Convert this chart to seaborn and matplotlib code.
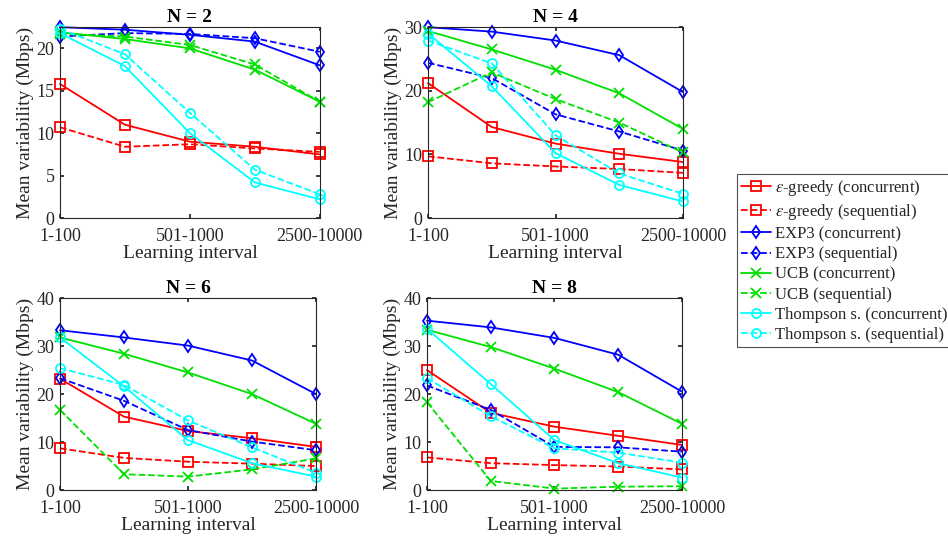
import matplotlib
matplotlib.use("Agg")
import matplotlib.pyplot as plt
import pandas as pd
import seaborn as sns

# x positions of the five learning intervals; only three are labelled
x_pos = [1, 2, 3, 4, 5]
tick_pos = [1, 3, 5]
tick_labels = ["1-100", "501-1000", "2500-10000"]

panels = ["N = 2", "N = 4", "N = 6", "N = 8"]

# values, per panel (Mbps)
eps_conc = {
    "N = 2": [15.8, 11.0, 9.0, 8.4, 7.5],
    "N = 4": [21.2, 14.3, 11.7, 10.1, 8.8],
    "N = 6": [23.2, 15.3, 12.3, 10.8, 9.0],
    "N = 8": [25.0, 16.1, 13.2, 11.3, 9.4],
}
eps_seq = {
    "N = 2": [10.7, 8.4, 8.7, 8.2, 7.8],
    "N = 4": [9.7, 8.6, 8.1, 7.7, 7.1],
    "N = 6": [8.7, 6.7, 5.9, 5.5, 5.0],
    "N = 8": [6.8, 5.6, 5.2, 4.9, 4.3],
}
exp3_conc = {
    "N = 2": [22.5, 22.2, 21.6, 20.8, 18.0],
    "N = 4": [30.0, 29.3, 27.9, 25.6, 19.8],
    "N = 6": [33.3, 31.8, 30.1, 27.0, 20.0],
    "N = 8": [35.3, 33.9, 31.7, 28.2, 20.5],
}
exp3_seq = {
    "N = 2": [21.4, 21.8, 21.7, 21.2, 19.6],
    "N = 4": [24.4, 22.0, 16.3, 13.6, 10.6],
    "N = 6": [23.3, 18.6, 12.5, 10.1, 8.3],
    "N = 8": [21.8, 16.7, 9.0, 8.9, 8.0],
}
ucb_conc = {
    "N = 2": [21.9, 21.1, 20.0, 17.5, 13.7],
    "N = 4": [29.4, 26.5, 23.3, 19.6, 14.0],
    "N = 6": [31.8, 28.4, 24.5, 20.0, 13.8],
    "N = 8": [33.4, 29.8, 25.3, 20.4, 13.8],
}
ucb_seq = {
    "N = 2": [21.7, 21.4, 20.4, 18.1, 13.7],
    "N = 4": [18.2, 22.9, 18.7, 15.0, 10.3],
    "N = 6": [16.7, 3.3, 2.8, 4.3, 6.6],
    "N = 8": [18.3, 1.9, 0.3, 0.7, 0.8],
}
ts_conc = {
    "N = 2": [21.8, 17.9, 10.0, 4.2, 2.2],
    "N = 4": [29.0, 20.7, 10.2, 5.2, 2.6],
    "N = 6": [31.8, 21.6, 10.4, 5.6, 2.8],
    "N = 8": [33.6, 22.1, 10.4, 5.6, 2.6],
}
ts_seq = {
    "N = 2": [22.3, 19.3, 12.4, 5.7, 2.8],
    "N = 4": [27.9, 24.3, 13.0, 7.0, 3.8],
    "N = 6": [25.4, 21.9, 14.5, 8.9, 3.6],
    "N = 8": [23.3, 15.4, 8.7, 7.8, 5.7],
}

ylims = {"N = 2": 22.5, "N = 4": 30, "N = 6": 40, "N = 8": 40}
yticks = {
    "N = 2": [0, 5, 10, 15, 20],
    "N = 4": [0, 10, 20, 30],
    "N = 6": [0, 10, 20, 30, 40],
    "N = 8": [0, 10, 20, 30, 40],
}

series = [
    ("$\\epsilon$-greedy (concurrent)", eps_conc, "#ff0000", "s", "-"),
    ("$\\epsilon$-greedy (sequential)", eps_seq, "#ff0000", "s", "--"),
    ("EXP3 (concurrent)", exp3_conc, "#0000ff", "d", "-"),
    ("EXP3 (sequential)", exp3_seq, "#0000ff", "d", "--"),
    ("UCB (concurrent)", ucb_conc, "#00e000", "x", "-"),
    ("UCB (sequential)", ucb_seq, "#00e000", "x", "--"),
    ("Thompson s. (concurrent)", ts_conc, "#00ffff", "o", "-"),
    ("Thompson s. (sequential)", ts_seq, "#00ffff", "o", "--"),
]

sns.set_theme(style="ticks")
plt.rcParams["font.family"] = ["Liberation Serif", "DejaVu Serif"]
plt.rcParams["mathtext.fontset"] = "stix"
text_col = "#262626"

fig = plt.figure(figsize=(9.48, 5.5), dpi=100)
boxes = {
    "N = 2": [0.0633, 0.6036, 0.274, 0.347],
    "N = 4": [0.4515, 0.6036, 0.269, 0.347],
    "N = 6": [0.0633, 0.109, 0.270, 0.349],
    "N = 8": [0.4504, 0.109, 0.269, 0.349],
}

handles = []
for panel in panels:
    ax = fig.add_axes(boxes[panel])
    for label, vals, col, mk, ls in series:
        df = pd.DataFrame({"x": x_pos, "y": vals[panel]})
        sns.lineplot(
            data=df, x="x", y="y", ax=ax, color=col, marker=mk,
            linestyle=ls, linewidth=1.3, markersize=6.5,
            markerfacecolor="none", markeredgecolor=col,
            markeredgewidth=1.3, label=label, legend=False, clip_on=False,
        )
    ax.set_xlim(1, 5)
    ax.set_ylim(0, ylims[panel])
    ax.set_xticks(tick_pos)
    ax.set_xticklabels(tick_labels)
    ax.set_yticks(yticks[panel])
    ax.tick_params(direction="in", top=True, right=True, length=3,
                   labelsize=13, colors=text_col, pad=4)
    ax.tick_params(axis="x", pad=7)
    for s in ax.spines.values():
        s.set_visible(True)
        s.set_color(text_col)
        s.set_linewidth(0.8)
    ax.set_xlabel("Learning interval", fontsize=14, color=text_col, labelpad=0)
    ax.set_ylabel("Mean variability (Mbps)", fontsize=14, color=text_col,
                  labelpad=2)
    ax.set_title(panel, fontsize=14, fontweight="bold", color="black", pad=4)
    if not handles:
        handles = ax.get_lines()

leg = fig.legend(
    handles=handles, labels=[s[0] for s in series],
    loc="upper left", bbox_to_anchor=(0.777, 0.684),
    fontsize=12, frameon=True, fancybox=False, handlelength=1.8,
    handletextpad=0.25, labelspacing=0.25, borderpad=0.25, borderaxespad=0,
)
leg.get_frame().set_edgecolor(text_col)
leg.get_frame().set_linewidth(0.8)
for t in leg.get_texts():
    t.set_color(text_col)

fig.savefig("out.png", dpi=100)
